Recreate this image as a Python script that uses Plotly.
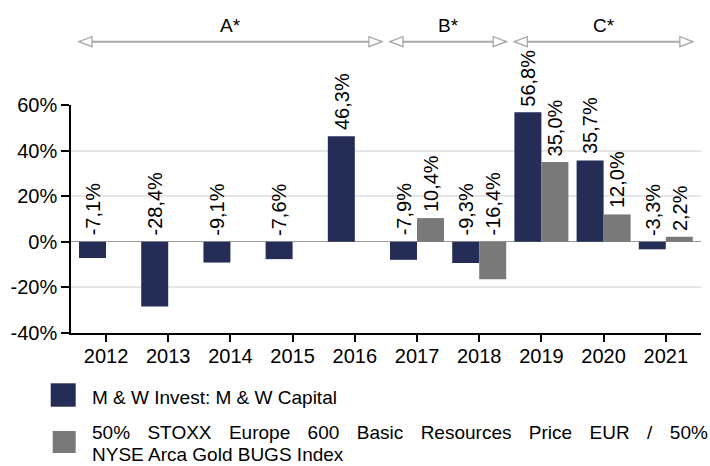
import plotly.graph_objects as go

# ---- data ----
years = ["2012", "2013", "2014", "2015", "2016", "2017", "2018", "2019", "2020", "2021"]
fund_values = [-7.1, -28.4, -9.1, -7.6, 46.3, -7.9, -9.3, 56.8, 35.7, -3.3]
bench_values = [None, None, None, None, None, 10.4, -16.4, 35.0, 12.0, 2.2]
_sp = "\u00a0\u00a0\u00a0\u200a"
series_names = [
    "M & W Invest: M & W Capital",
    _sp.join(["50%", "STOXX", "Europe", "600", "Basic", "Resources", "Price", "EUR", "/", "50%"])
    + "\nNYSE Arca Gold BUGS Index",
]
period_labels = ["A*", "B*", "C*"]
period_start = ["2012", "2017", "2019"]
period_end = ["2016", "2018", "2021"]
y_ticks = [-40, -20, 0, 20, 40, 60]
y_ticktext = [f"{v}%" for v in y_ticks]

# ---- styling ----
NAVY = "#252c56"
GREY = "#797979"
FONT = "Liberation Sans, Arial, sans-serif"
W, H = 710, 466
ML, MR, MT, MB = 71, 9, 105, 133
PW, PH = W - ML - MR, H - MT - MB
BARGAP = 0.132
bar_w = (1 - BARGAP) / 2

def px_to_py(py):
    return (H - MB - py) / PH

def px_to_px(px):
    return (px - ML) / PW

xs = list(range(len(years)))

fig = go.Figure()
fig.add_trace(go.Bar(x=xs, y=fund_values, name=series_names[0], marker_color=NAVY,
                     marker_line_width=0, showlegend=False))
fig.add_trace(go.Bar(x=xs, y=bench_values, name=series_names[1], marker_color=GREY,
                     marker_line_width=0, showlegend=False))

def fmt(v):
    return f"{v:.1f}".replace(".", ",") + "%"

annotations = []
for vals, off in ((fund_values, -bar_w / 2), (bench_values, bar_w / 2)):
    for i, v in enumerate(vals):
        if v is None:
            continue
        annotations.append(dict(
            x=xs[i] + off, y=max(v, 0), xref="x", yref="y", text=fmt(v),
            textangle=-90, showarrow=False, xanchor="center", yanchor="bottom",
            yshift=4, font=dict(family=FONT, size=20, color="black")))

shapes = []
ARROW_Y = px_to_py(41.7)
LABEL_Y = px_to_py(26)
gap = 0.065
AC = "#a9a9a9"
for lab, s, e in zip(period_labels, period_start, period_end):
    x0 = years.index(s) - 0.5 + gap
    x1 = years.index(e) + 0.5 - gap
    shapes.append(dict(type="line", xref="x", yref="paper", x0=x0, x1=x1,
                       y0=ARROW_Y, y1=ARROW_Y, line=dict(color=AC, width=2)))
    shapes.append(dict(type="path", xref="x", yref="paper", xsizemode="pixel", ysizemode="pixel",
                       xanchor=x0, yanchor=ARROW_Y, path="M0,0 L13,5 L13,-5 Z",
                       fillcolor="white", line=dict(color=AC, width=1.3)))
    shapes.append(dict(type="path", xref="x", yref="paper", xsizemode="pixel", ysizemode="pixel",
                       xanchor=x1, yanchor=ARROW_Y, path="M0,0 L-13,5 L-13,-5 Z",
                       fillcolor="white", line=dict(color=AC, width=1.3)))
    annotations.append(dict(x=(x0 + x1) / 2, y=LABEL_Y, xref="x", yref="paper", text=lab,
                            showarrow=False, xanchor="center", yanchor="middle",
                            font=dict(family=FONT, size=19, color="black")))

# manual legend
leg = [
    (NAVY, (50.7, 75.7, 383.3, 406.7), [397]),
    (GREY, (52.7, 75.7, 431, 453), [432, 454]),
]
for (col, (x0, x1, y0, y1), ys), name in zip(leg, series_names):
    shapes.append(dict(type="rect", xref="paper", yref="paper",
                       x0=px_to_px(x0), x1=px_to_px(x1), y0=px_to_py(y0), y1=px_to_py(y1),
                       fillcolor=col, line=dict(width=0)))
    for line_text, yy in zip(name.split("\n"), ys):
        annotations.append(dict(x=px_to_px(90), y=px_to_py(yy), xref="paper", yref="paper",
                                text=line_text, showarrow=False, xanchor="left", yanchor="middle",
                                font=dict(family=FONT, size=19, color="black")))

fig.update_layout(
    width=W, height=H, margin=dict(l=ML, r=MR, t=MT, b=MB),
    paper_bgcolor="white", plot_bgcolor="white",
    barmode="group", bargap=BARGAP, bargroupgap=0,
    font=dict(family=FONT, size=20, color="black"),
    annotations=annotations, shapes=shapes,
)
fig.update_xaxes(range=[-0.563, 9.566], tickvals=xs, ticktext=years, showgrid=False,
                 showline=True, linecolor="black", linewidth=1.5, ticks="outside",
                 ticklen=7, tickwidth=1.5, tickcolor="black", zeroline=False,
                 tickfont=dict(size=20), ticklabelstandoff=-3)
fig.update_yaxes(range=[-40, 60], tickvals=y_ticks, ticktext=y_ticktext, showgrid=True,
                 gridcolor="#e6e6e6", gridwidth=1.5, zeroline=True, zerolinecolor="#9a9a9a",
                 zerolinewidth=1.2, showline=True, linecolor="black", linewidth=1.5,
                 ticks="outside", ticklen=8, tickwidth=1.5, tickcolor="black",
                 tickfont=dict(size=20))

fig.write_html("out.html", config={"displayModeBar": False},
               post_script="document.body.style.margin='0px';document.body.style.overflow='hidden';")
